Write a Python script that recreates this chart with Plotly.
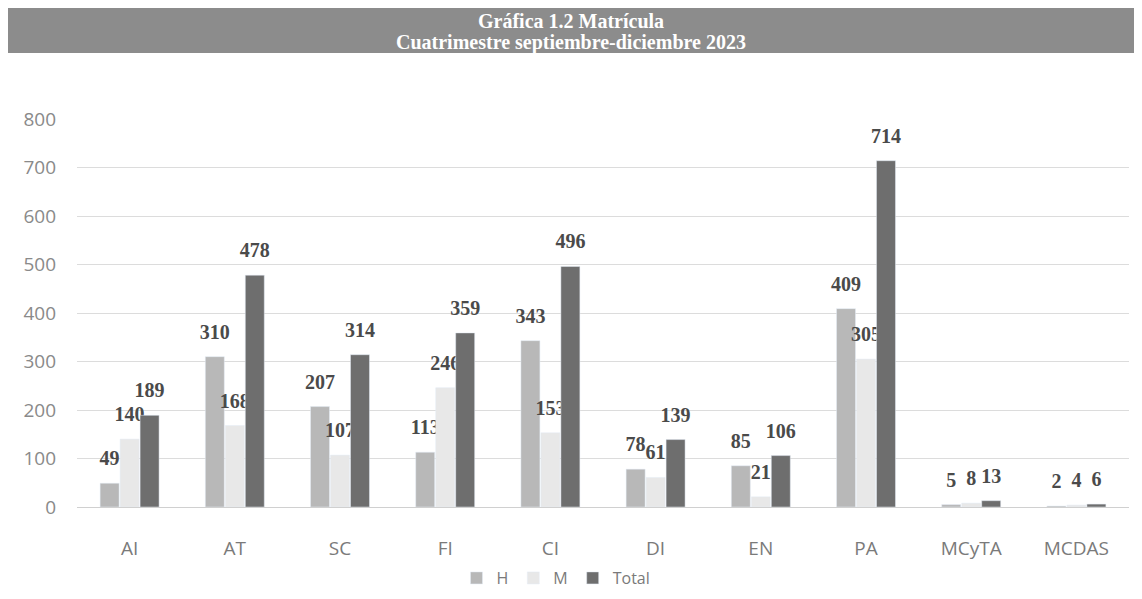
import plotly.graph_objects as go

categories = ["AI", "AT", "SC", "FI", "CI", "DI", "EN", "PA", "MCyTA", "MCDAS"]
h_values = [49, 310, 207, 113, 343, 78, 85, 409, 5, 2]
m_values = [140, 168, 107, 246, 153, 61, 21, 305, 8, 4]
total_values = [189, 478, 314, 359, 496, 139, 106, 714, 13, 6]
y_ticks = [0, 100, 200, 300, 400, 500, 600, 700, 800]

# page body has an 8px margin; figure sized to fit the window
OFF = 8
W, H = 1142 - OFF, 599 - OFF
ML, MR, MT, MB = 77 - OFF, 13, 119 - OFF, 92
pw, ph = W - ML - MR, H - MT - MB

def px_x(x):
    return (x - OFF - ML) / pw

def px_y(y):
    return (H - MB - (y - OFF)) / ph

label_font = dict(family="Liberation Serif", size=10, color="#4a4a4a")
tmpl = "<span style='font-size:20px;font-weight:bold'>%{y}</span><br>\u00a0"

fig = go.Figure()
series = [("H", h_values, "#b8b8b8"), ("M", m_values, "#e8e8e8"), ("Total", total_values, "#6e6e6e")]
for name, vals, col in series:
    fig.add_trace(go.Bar(
        name=name, x=categories, y=vals, marker_color=col,
        texttemplate=tmpl, textposition="outside", textfont=label_font,
        constraintext="none", cliponaxis=False,
    ))

fig.update_layout(
    width=W, height=H,
    margin=dict(l=ML, r=MR, t=MT, b=MB, autoexpand=False),
    paper_bgcolor="white", plot_bgcolor="white",
    barmode="group", bargap=0.43, bargroupgap=0.05,
    showlegend=True,
    legend=dict(orientation="h", x=px_x(556), y=px_y(578), xanchor="center", yanchor="middle",
                font=dict(family="Open Sans", size=16, color="#7a7a7a"),
                itemwidth=30, traceorder="normal"),
    shapes=[dict(type="rect", xref="paper", yref="paper",
                 x0=px_x(OFF), x1=px_x(1139), y0=px_y(53), y1=px_y(OFF),
                 fillcolor="#8c8c8c", line=dict(width=0), layer="below")],
    annotations=[
        dict(text="<b>Gráfica 1.2 Matrícula</b>", xref="paper", yref="paper",
             x=px_x(571), y=px_y(21), xanchor="center", yanchor="middle", showarrow=False,
             font=dict(family="Liberation Serif", size=20, color="white")),
        dict(text="<b>Cuatrimestre septiembre-diciembre 2023</b>", xref="paper", yref="paper",
             x=px_x(571), y=px_y(42), xanchor="center", yanchor="middle", showarrow=False,
             font=dict(family="Liberation Serif", size=20, color="white")),
    ],
)

fig.update_yaxes(range=[0, 800], tickvals=y_ticks, ticktext=[str(v) for v in y_ticks],
                 showgrid=True, gridcolor="#dcdcdc", gridwidth=1,
                 zeroline=True, zerolinecolor="#d0d0d0", zerolinewidth=1,
                 showline=False, ticks="", ticklabelstandoff=20,
                 tickfont=dict(family="Open Sans", size=19, color="#8a8a8a"))
fig.update_xaxes(showgrid=False, showline=False, ticks="", ticklabelstandoff=28,
                 tickfont=dict(family="Open Sans", size=19, color="#7a7a7a"))

fig.write_html("out.html")
